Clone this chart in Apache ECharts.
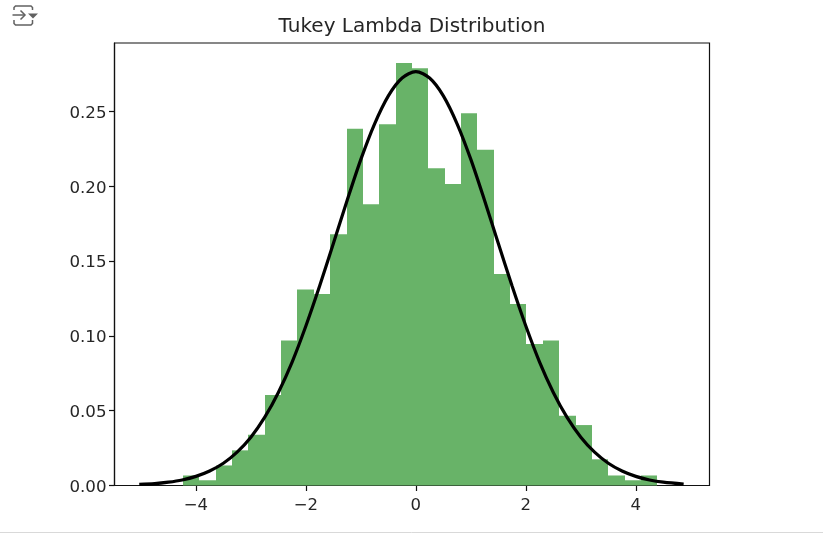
<!DOCTYPE html>
<html>
<head>
<meta charset="utf-8">
<style>html,body{margin:0;padding:0;background:#fff}#c{width:823px;height:534px}</style>
<script src="https://cdn.jsdelivr.net/npm/echarts@6/dist/echarts.min.js"></script>
</head>
<body>
<div id="c"></div>
<script>
const titleText = "Tukey Lambda Distribution";
const xTicks = [-4, -2, 0, 2, 4];
const yTicks = [0, 0.05, 0.10, 0.15, 0.20, 0.25];
const binEdges = [-4.236,-3.939,-3.641,-3.344,-3.046,-2.749,-2.451,-2.154,-1.856,-1.559,-1.261,-0.964,-0.666,-0.369,-0.071,0.226,0.524,0.821,1.119,1.416,1.714,2.011,2.309,2.606,2.904,3.201,3.499,3.796,4.094,4.391];
const binHeights = [0.0067,0.0035,0.0134,0.0235,0.034,0.0605,0.097,0.131,0.128,0.168,0.2385,0.188,0.2415,0.2825,0.2790,0.212,0.2015,0.2488,0.2245,0.1414,0.1213,0.0946,0.097,0.0467,0.0404,0.0175,0.0067,0.0035,0.0067];
const curveX = [-5.03,-4.75,-4.5,-4.25,-4,-3.75,-3.5,-3.25,-3,-2.75,-2.5,-2.25,-2,-1.75,-1.5,-1.25,-1,-0.75,-0.5,-0.25,0,0.25,0.5,0.75,1,1.25,1.5,1.75,2,2.25,2.5,2.75,3,3.25,3.5,3.75,4,4.25,4.5,4.87];
const curveY = [0.0007,0.0012,0.0022,0.0037,0.0061,0.0097,0.0149,0.0223,0.0323,0.0455,0.0622,0.0825,0.1066,0.1333,0.1618,0.1905,0.218,0.2418,0.2605,0.2724,0.2766,0.2724,0.2605,0.2418,0.218,0.1905,0.1618,0.1333,0.1066,0.0825,0.0622,0.0455,0.0323,0.0223,0.0149,0.0097,0.0061,0.0037,0.0022,0.0009];

const FONT = "DejaVu Sans";
const INK = "#262626";
const chart = echarts.init(document.getElementById("c"), null, {renderer: "canvas"});
const bars = binHeights.map((h, i) => [binEdges[i], binEdges[i + 1], h]);
const curve = curveX.map((x, i) => [x, curveY[i]]);
const iconColor = "#616161";
const iconLine = pts => ({type: "polyline", shape: {points: pts}, style: {fill: null, stroke: iconColor, lineWidth: 1.5}});

chart.setOption({
  animation: false,
  backgroundColor: "#fff",
  title: {
    text: titleText, left: 407, top: 12, textAlign: "center",
    textStyle: {fontFamily: FONT, fontSize: 20, fontWeight: "normal", color: INK}
  },
  grid: {left: 114.5, right: 113.5, top: 43, bottom: 48.5, show: true, borderColor: "#111", borderWidth: 1.2, backgroundColor: "#fff"},
  xAxis: {
    type: "value", min: -5.48, max: 5.34, splitLine: {show: false},
    axisLine: {show: true, onZero: false, lineStyle: {color: "#111", width: 1.2}},
    axisTick: {show: true, length: 5.5, customValues: xTicks, lineStyle: {color: "#111", width: 1.2}},
    axisLabel: {
      customValues: xTicks, margin: 12, color: INK, fontFamily: FONT, fontSize: 16.5,
      formatter: v => String(v).replace("-", "\u2212")
    }
  },
  yAxis: {
    type: "value", min: 0, max: 0.2958, splitLine: {show: false},
    axisLine: {show: true, onZero: false, lineStyle: {color: "#111", width: 1.2}},
    axisTick: {show: true, length: 5.5, customValues: yTicks, lineStyle: {color: "#111", width: 1.2}},
    axisLabel: {
      customValues: yTicks, margin: 8, color: INK, fontFamily: FONT, fontSize: 16.67, verticalAlign: "top", lineHeight: 4,
      formatter: v => v.toFixed(2)
    }
  },
  series: [
    {
      type: "custom", coordinateSystem: "cartesian2d", data: bars,
      encode: {x: [0, 1], y: 2}, z: 2,
      renderItem: (params, api) => {
        const a = api.coord([api.value(0), api.value(2)]);
        const b = api.coord([api.value(1), 0]);
        const x0 = Math.round(a[0]), x1 = Math.round(b[0]);
        return {type: "rect", shape: {x: x0, y: a[1], width: x1 - x0, height: b[1] - a[1]},
                style: {fill: "#68b368"}};
      }
    },
    {
      type: "line", data: curve, smooth: 0.3, showSymbol: false, symbol: "none", z: 3, clip: false,
      lineStyle: {color: "#000", width: 3.2, cap: "butt"}
    }
  ],
  graphic: [
    iconLine([[14,10],[14,7.5],[15.5,6],[31,6],[32.5,7.5],[32.5,10]]),
    iconLine([[14,20],[14,23.5],[15.5,25],[31,25],[32.5,23.5],[32.5,20]]),
    iconLine([[12.5,15],[25,15]]),
    iconLine([[20.5,10.5],[25,15],[20.5,19.5]]),
    {type: "polygon", shape: {points: [[28,13.5],[38,13.5],[33,18.5]]}, style: {fill: iconColor}},
    {type: "line", shape: {x1: 0, y1: 532.5, x2: 823, y2: 532.5}, style: {stroke: "#d9d9d9", lineWidth: 1}}
  ]
});
</script>
</body>
</html>
